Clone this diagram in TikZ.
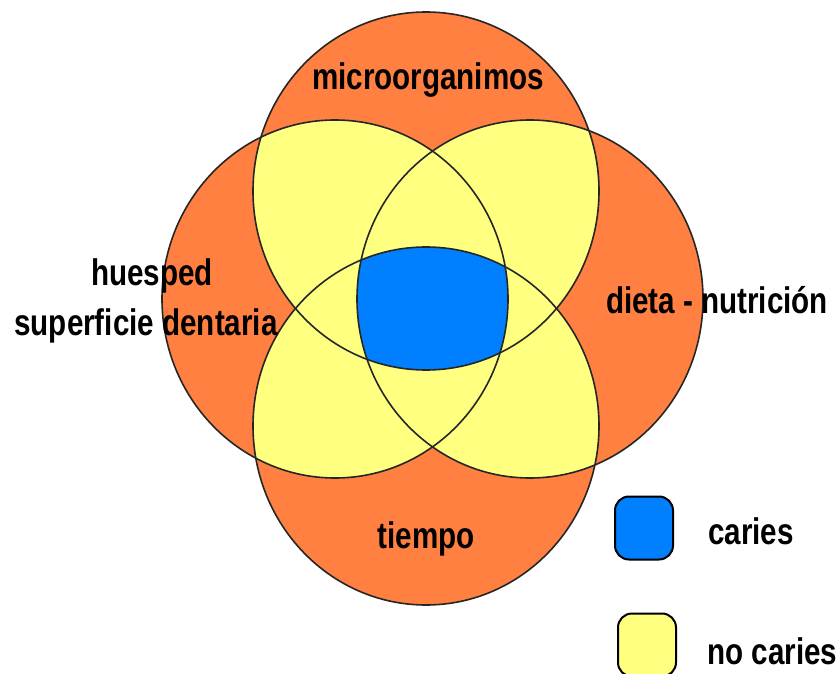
\documentclass[tikz,border=0pt]{standalone}
\usepackage{fontspec}
\setmainfont{Liberation Sans}[FakeStretch=0.8]
\usepackage{xcolor}
\usepackage{tikz}
\usetikzlibrary{positioning}
\definecolor{lobeorange}{HTML}{FF8040}
\definecolor{lobeyellow}{HTML}{FFFF80}
\definecolor{coreblue}{HTML}{0080FF}

\begin{document}
\begin{tikzpicture}[
  x=1pt,
  y=-1pt,
  lobe/.style={x radius=173pt, y radius=179pt},
  rim/.style={draw=black!85, line width=1.6pt},
  lbl/.style={font=\fontsize{37}{44}\selectfont\bfseries, inner sep=0pt, anchor=base},
  legbox/.style={draw=black, line width=2pt, rounded corners=14pt, minimum width=58pt, minimum height=63pt, inner sep=0pt}
]
\useasboundingbox (0,0) rectangle (839,674);
\coordinate (micro) at (426,191);
\coordinate (huesped) at (335,299);
\coordinate (dieta) at (530,299);
\coordinate (tiempo) at (426,426);

\fill[lobeorange] (micro) ellipse [lobe];
\fill[lobeorange] (huesped) ellipse [lobe];
\fill[lobeorange] (dieta) ellipse [lobe];
\fill[lobeorange] (tiempo) ellipse [lobe];

\foreach \a/\b in {micro/huesped, micro/dieta, micro/tiempo, huesped/dieta, huesped/tiempo, dieta/tiempo}{
  \begin{scope}
    \clip (\a) ellipse [lobe];
    \fill[lobeyellow] (\b) ellipse [lobe];
  \end{scope}
}

\begin{scope}
  \clip (micro) ellipse [lobe];
  \clip (huesped) ellipse [lobe];
  \clip (dieta) ellipse [lobe];
  \fill[coreblue] (tiempo) ellipse [lobe];
\end{scope}

\draw[rim] (micro) ellipse [lobe];
\draw[rim] (huesped) ellipse [lobe];
\draw[rim] (dieta) ellipse [lobe];
\draw[rim] (tiempo) ellipse [lobe];

\node[lbl] (microtxt) at (428,90) {microorganimos};
\node[lbl] (huespedtxt) at (152,285) {huesped};
\node[lbl] (superftxt) at (146,335) {superficie dentaria};
\node[lbl] (dietatxt) at (717,313) {dieta - nutrición};
\node[lbl] (tiempotxt) at (426,548) {tiempo};

\node[legbox, fill=coreblue] (cariesbox) at (644,528) {};
\node[legbox, fill=lobeyellow] (nocariesbox) at (647,645) {};
\node[lbl, anchor=base west] (cariestxt) at (708,544) {caries};
\node[lbl, anchor=base west] (nocariestxt) at (707,664) {no caries};
\end{tikzpicture}
\end{document}
